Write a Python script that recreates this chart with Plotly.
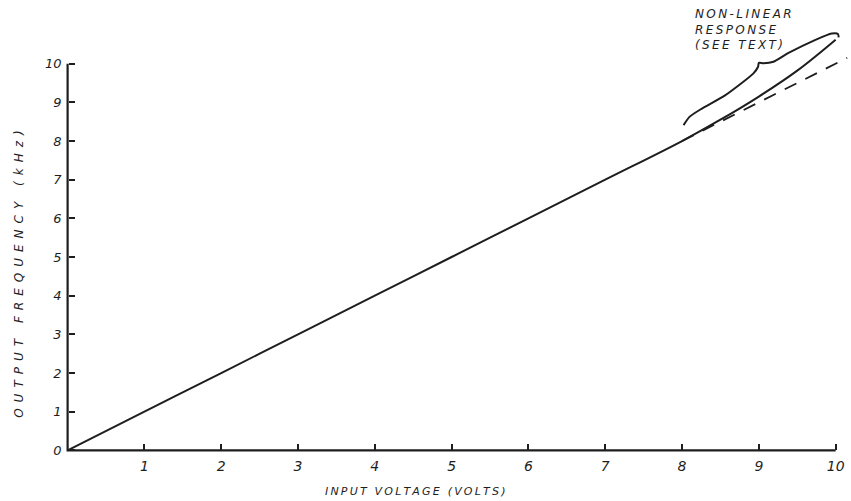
import plotly.graph_objects as go

# Converter transfer curve: output frequency versus input voltage
volts = [0, 1, 2, 3, 4, 5, 6, 7, 8, 8.5, 9, 9.5, 10]
freq_khz = [0, 1, 2, 3, 4, 5, 6, 7, 8, 8.55, 9.15, 9.82, 10.62]

# Ideal linear extension beyond 8 V
ideal_volts = [8, 10.15]
ideal_khz = [8, 10.15]

# Brace marking the non-linear region
brace_x = [8.02, 8.10, 8.26, 8.56, 8.93, 8.99, 9.00, 9.06, 9.19, 9.38, 9.73, 9.95, 10.03, 10.04]
brace_y = [8.41, 8.63, 8.84, 9.18, 9.75, 9.92, 10.02, 10.01, 10.05, 10.27, 10.61, 10.78, 10.77, 10.68]

x_ticks = [1, 2, 3, 4, 5, 6, 7, 8, 9, 10]
y_ticks = [0, 1, 2, 3, 4, 5, 6, 7, 8, 9, 10]

# Ranges start slightly below zero so the axis lines sit inside the plot area
X_RANGE = [-0.06, 10.2]
Y_RANGE = [-0.12, 11]

INK = "#1e1e1e"
FONT = "DejaVu Sans"

PX_X = 76.8   # pixels per volt
PX_Y = 38.64  # pixels per kHz
ORIGIN = (68, 450)
W, H = 851, 501

plot_w = (X_RANGE[1] - X_RANGE[0]) * PX_X
plot_h = (Y_RANGE[1] - Y_RANGE[0]) * PX_Y
m_l = ORIGIN[0] + X_RANGE[0] * PX_X
m_b = (H - ORIGIN[1]) + Y_RANGE[0] * PX_Y
m_r = W - m_l - plot_w
m_t = H - m_b - plot_h

# Paper position of the data origin (where the axes sit)
ox = -X_RANGE[0] / (X_RANGE[1] - X_RANGE[0])
oy = -Y_RANGE[0] / (Y_RANGE[1] - Y_RANGE[0])


def px_to_paper(px, py):
    return (px - m_l) / plot_w, (H - m_b - py) / plot_h


def spaced(text, gap="\u2009"):
    return gap.join(text)


fig = go.Figure()

# Both axis lines as one L-shaped path over the 0-10 span
fig.add_trace(go.Scatter(
    x=[0, 0, x_ticks[-1]], y=[y_ticks[-1], 0, 0], mode="lines",
    line=dict(color=INK, width=2.2), hoverinfo="skip", showlegend=False,
))

fig.add_trace(go.Scatter(
    x=ideal_volts, y=ideal_khz, mode="lines",
    line=dict(color=INK, width=1.8, dash="13px,10px"),
    hoverinfo="skip", showlegend=False,
))
fig.add_trace(go.Scatter(
    x=volts, y=freq_khz, mode="lines", line_shape="spline",
    line=dict(color=INK, width=2),
    showlegend=False,
))
fig.add_trace(go.Scatter(
    x=brace_x, y=brace_y, mode="lines", line_shape="spline",
    line=dict(color=INK, width=2, smoothing=0.6),
    hoverinfo="skip", showlegend=False,
))

ax_, ay_ = px_to_paper(693, 5)
fig.add_annotation(
    x=ax_, y=ay_, xref="paper", yref="paper",
    xanchor="left", yanchor="top",
    text=spaced("NON-LINEAR") + "<br>" + spaced("RESPONSE") + "<br>" + spaced("(SEE TEXT)"),
    showarrow=False, align="left",
    font=dict(family=FONT, size=12, color=INK, style="italic"),
)
tx, ty = px_to_paper(415, 483)
fig.add_annotation(
    x=tx, y=ty, xref="paper", yref="paper",
    xanchor="center", yanchor="top",
    text=spaced("INPUT VOLTAGE (VOLTS)"),
    showarrow=False,
    font=dict(family=FONT, size=11, color=INK, style="italic"),
)
yx, yy = px_to_paper(20, 274)
fig.add_annotation(
    x=yx, y=yy, xref="paper", yref="paper",
    xanchor="center", yanchor="middle", textangle=-90,
    text=spaced("OUTPUT FREQUENCY (kHz)", "\u2002"),
    showarrow=False,
    font=dict(family=FONT, size=12, color=INK, style="italic"),
)

fig.update_xaxes(
    range=X_RANGE, showgrid=False, zeroline=False, showline=False,
    anchor="free", position=oy,
    tickmode="array", tickvals=x_ticks, ticktext=[str(v) for v in x_ticks],
    ticks="inside", ticklen=6, tickwidth=1.5, tickcolor=INK,
    ticklabelstandoff=6,
    tickfont=dict(family=FONT, size=14, color=INK, style="italic"),
)
fig.update_yaxes(
    range=Y_RANGE, showgrid=False, zeroline=False, showline=False,
    anchor="free", position=ox,
    tickmode="array", tickvals=y_ticks, ticktext=[str(v) for v in y_ticks],
    ticks="inside", ticklen=6, tickwidth=1.5, tickcolor=INK,
    ticklabelstandoff=6,
    tickfont=dict(family=FONT, size=13, color=INK, style="italic"),
)

fig.update_layout(
    width=W, height=H,
    margin=dict(l=m_l, r=max(m_r, 0), t=m_t, b=m_b, autoexpand=False),
    paper_bgcolor="white", plot_bgcolor="white",
    showlegend=False,
)

fig.write_html("out.html")
